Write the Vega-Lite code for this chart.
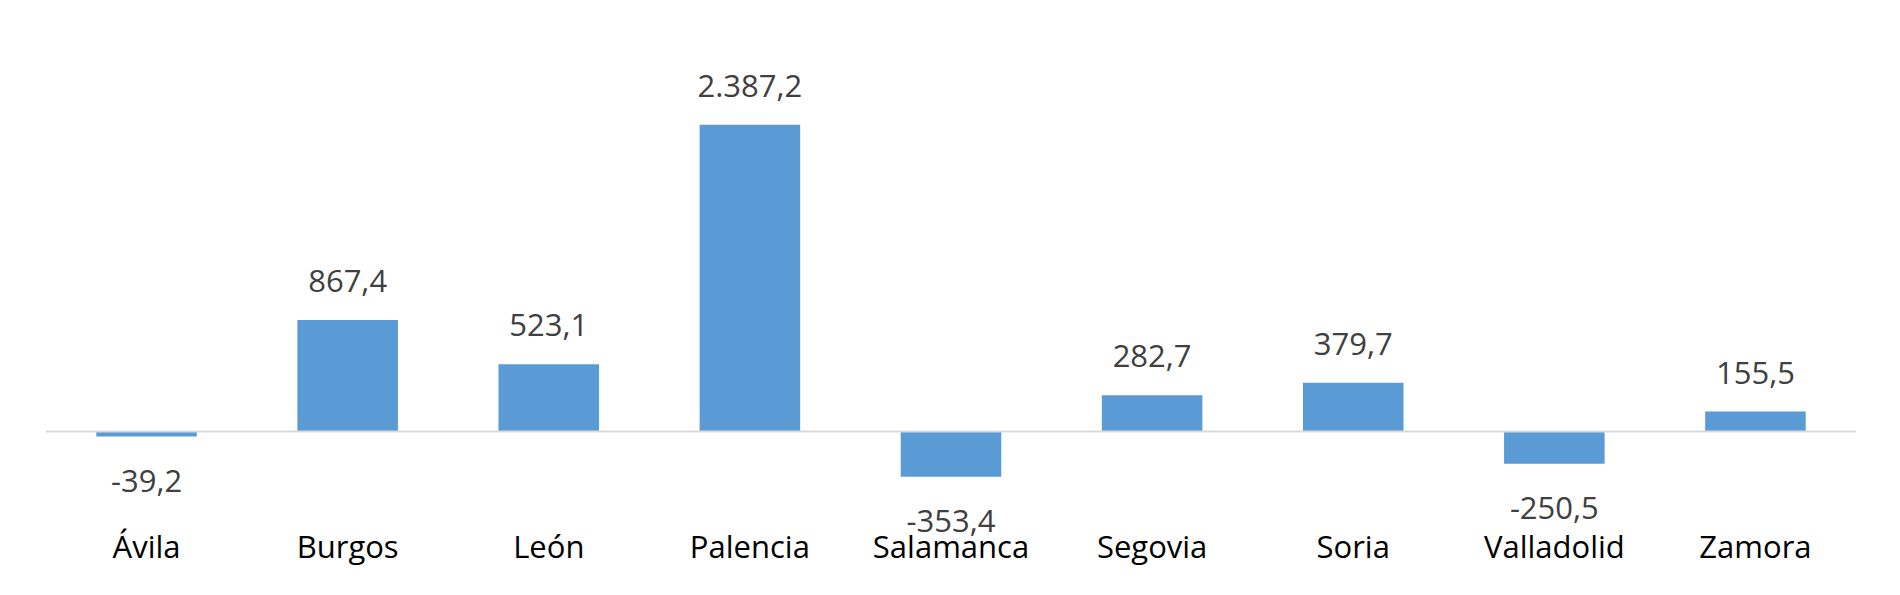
{
  "$schema": "https://vega.github.io/schema/vega-lite/v6.json",
  "autosize": {"type": "none"},
  "padding": {"left": 46, "top": 59, "right": 44, "bottom": 99.3},
  "width": 1810,
  "height": 436.7,
  "background": "white",
  "config": {
    "view": {"stroke": null},
    "font": "Open Sans",
    "locale": {"number": {"decimal": ",", "thousands": ".", "grouping": [3], "currency": ["", " €"], "minus": "-"}}
  },
  "data": {
    "values": [
      {"provincia": "Ávila", "valor": -39.2},
      {"provincia": "Burgos", "valor": 867.4},
      {"provincia": "León", "valor": 523.1},
      {"provincia": "Palencia", "valor": 2387.2},
      {"provincia": "Salamanca", "valor": -353.4},
      {"provincia": "Segovia", "valor": 282.7},
      {"provincia": "Soria", "valor": 379.7},
      {"provincia": "Valladolid", "valor": -250.5},
      {"provincia": "Zamora", "valor": 155.5}
    ]
  },
  "encoding": {
    "x": {
      "field": "provincia",
      "type": "nominal",
      "sort": null,
      "scale": {"paddingInner": 0.5, "paddingOuter": 0.25},
      "axis": {
        "title": null,
        "domain": false,
        "ticks": false,
        "tickSize": 0,
        "labelAngle": 0,
        "labelFont": "Open Sans",
        "labelFontSize": 31,
        "labelColor": "#000000",
        "labelBaseline": "alphabetic",
        "labelPadding": 61.7
      }
    }
  },
  "layer": [
    {
      "mark": {"type": "bar", "color": "#5b9bd5"},
      "encoding": {
        "y": {
          "field": "valor",
          "type": "quantitative",
          "scale": {"domain": [-500, 2900], "nice": false, "zero": false},
          "axis": null
        }
      }
    },
    {
      "data": {"values": [{"cero": 0}]},
      "mark": {"type": "rule", "color": "#d9d9d9", "strokeWidth": 2},
      "encoding": {
        "x": null,
        "y": {"field": "cero", "type": "quantitative"}
      }
    },
    {
      "transform": [{"filter": "datum.valor >= 0"}],
      "mark": {"type": "text", "baseline": "alphabetic", "dy": -28, "fontSize": 31, "color": "#404040", "font": "Open Sans"},
      "encoding": {
        "y": {"field": "valor", "type": "quantitative"},
        "text": {"field": "valor", "type": "quantitative", "format": ",.1f"}
      }
    },
    {
      "transform": [{"filter": "datum.valor < 0"}],
      "mark": {"type": "text", "baseline": "alphabetic", "dy": 55, "fontSize": 31, "color": "#404040", "font": "Open Sans"},
      "encoding": {
        "y": {"field": "valor", "type": "quantitative"},
        "text": {"field": "valor", "type": "quantitative", "format": ",.1f"}
      }
    }
  ]
}
